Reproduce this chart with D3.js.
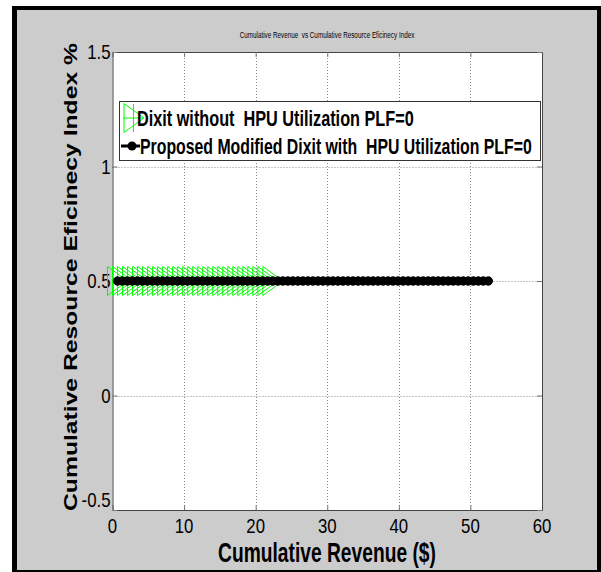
<!DOCTYPE html>
<html>
<head>
<meta charset="utf-8">
<script src="https://cdn.jsdelivr.net/npm/d3@7"></script>
<style>
  html, body { margin: 0; padding: 0; background: #ffffff; }
  svg { display: block; }
  text { white-space: pre; }
</style>
</head>
<body>
<svg id="chart" width="601" height="572"></svg>
<script>
// Cumulative revenue ($) of each step, and the efficiency index at that step
const dixitRevenue = [0.7,1.4,2.1,2.8,3.5,4.2,4.9,5.6,6.3,7.0,7.7,8.4,9.1,9.8,10.5,11.2,
  11.9,12.6,13.3,14.0,14.7,15.4,16.1,16.8,17.5,18.2,18.9,19.6,20.3,21.0,21.7,22.4];
const dixitIndex = [0.5,0.5,0.5,0.5,0.5,0.5,0.5,0.5,0.5,0.5,0.5,0.5,0.5,0.5,0.5,0.5,
  0.5,0.5,0.5,0.5,0.5,0.5,0.5,0.5,0.5,0.5,0.5,0.5,0.5,0.5,0.5,0.5];

const proposedRevenue = [0.7,1.4,2.1,2.8,3.5,4.2,4.9,5.6,6.3,7.0,7.7,8.4,9.1,9.8,10.5,
  11.2,11.9,12.6,13.3,14.0,14.7,15.4,16.1,16.8,17.5,18.2,18.9,19.6,20.3,21.0,21.7,22.4,
  23.1,23.8,24.5,25.2,25.9,26.6,27.3,28.0,28.7,29.4,30.1,30.8,31.5,32.2,32.9,33.6,34.3,
  35.0,35.7,36.4,37.1,37.8,38.5,39.2,39.9,40.6,41.3,42.0,42.7,43.4,44.1,44.8,45.5,46.2,
  46.9,47.6,48.3,49.0,49.7,50.4,51.1,51.8,52.5];
const proposedIndex = [0.5,0.5,0.5,0.5,0.5,0.5,0.5,0.5,0.5,0.5,0.5,0.5,0.5,0.5,0.5,
  0.5,0.5,0.5,0.5,0.5,0.5,0.5,0.5,0.5,0.5,0.5,0.5,0.5,0.5,0.5,0.5,0.5,
  0.5,0.5,0.5,0.5,0.5,0.5,0.5,0.5,0.5,0.5,0.5,0.5,0.5,0.5,0.5,0.5,0.5,
  0.5,0.5,0.5,0.5,0.5,0.5,0.5,0.5,0.5,0.5,0.5,0.5,0.5,0.5,0.5,0.5,0.5,
  0.5,0.5,0.5,0.5,0.5,0.5,0.5,0.5,0.5];

const xTicks = [0, 10, 20, 30, 40, 50, 60];
const yTicks = [-0.5, 0, 0.5, 1, 1.5];
const yTickLabels = ["-0.5", "0", "0.5", "1", "1.5"];

const seriesNames = [
  "Dixit without  HPU Utilization PLF=0",
  "Proposed Modified Dixit with  HPU Utilization PLF=0"
];
const chartTitle = "Cumulative Revenue  vs Cumulative Resource Eficinecy Index";
const xTitle = "Cumulative Revenue ($)";
const yTitle = "Cumulative Resource Eficinecy Index %";

const svg = d3.select("#chart");
const narrow = "'Liberation Sans Narrow', 'Arial Narrow', 'Liberation Sans', Arial, sans-serif";
const wide = "'Liberation Sans', Arial, sans-serif";

// squeeze a text selection horizontally, as a condensed face would
function condense(sel, factor) {
  sel.each(function () {
    const len = this.getComputedTextLength();
    d3.select(this).attr("textLength", len * factor).attr("lengthAdjust", "spacingAndGlyphs");
  });
}

// text placed at (tx, ty) and scaled horizontally to a given width
function fitText(parent, tx, ty, width, str, size, weight, anchor) {
  const g = parent.append("g");
  const t = g.append("text").attr("x", 0).attr("y", 0)
    .attr("font-family", narrow).attr("font-weight", weight).attr("font-size", size)
    .attr("text-anchor", anchor || "start").text(str);
  const k = width / t.node().getComputedTextLength();
  g.attr("transform", `translate(${tx},${ty}) scale(${k},1)`);
  return t;
}

// figure frame
svg.append("rect").attr("x", 12).attr("y", 6).attr("width", 589).attr("height", 566).attr("fill", "#000");
svg.append("rect").attr("x", 17).attr("y", 10).attr("width", 580).attr("height", 560).attr("fill", "#cccccc");

const plot = { left: 112.5, right: 542, top: 52, bottom: 510 };
const x = d3.scaleLinear().domain([0, 60]).range([plot.left, plot.right]);
const y = d3.scaleLinear().domain([-0.5, 1.5]).range([plot.bottom, plot.top]);

svg.append("rect")
  .attr("x", plot.left).attr("y", plot.top)
  .attr("width", plot.right - plot.left).attr("height", plot.bottom - plot.top)
  .attr("fill", "#fff");

// dotted grid
const grid = svg.append("g").attr("stroke", "#8a8a8a").attr("stroke-width", 1).attr("stroke-dasharray", "1,2");
grid.selectAll("line.gx").data(xTicks.slice(1, -1)).join("line")
  .attr("x1", d => Math.round(x(d)) + 0.5).attr("x2", d => Math.round(x(d)) + 0.5)
  .attr("y1", plot.top).attr("y2", plot.bottom);
grid.selectAll("line.gy").data(yTicks.slice(1, -1)).join("line")
  .attr("y1", d => Math.round(y(d)) + 0.5).attr("y2", d => Math.round(y(d)) + 0.5)
  .attr("x1", plot.left).attr("x2", plot.right);

// axes with inward ticks
const xAxis = d3.axisBottom(x).tickValues(xTicks).tickSizeInner(-5).tickSizeOuter(0).tickFormat("");
const xAxisTop = d3.axisTop(x).tickValues(xTicks).tickSizeInner(-5).tickSizeOuter(0).tickFormat("");
const yAxis = d3.axisLeft(y).tickValues(yTicks).tickSizeInner(-5).tickSizeOuter(0).tickFormat("");
const yAxisRight = d3.axisRight(y).tickValues(yTicks).tickSizeInner(-5).tickSizeOuter(0).tickFormat("");

function styleAxis(g) {
  g.select(".domain").attr("stroke", "#444");
  g.selectAll(".tick line").attr("stroke", "#777");
}
svg.append("g").attr("transform", `translate(0,${plot.bottom})`).call(xAxis).call(styleAxis);
svg.append("g").attr("transform", `translate(0,${plot.top})`).call(xAxisTop).call(styleAxis);
svg.append("g").attr("transform", `translate(${plot.left},0)`).call(yAxis).call(styleAxis);
svg.append("g").attr("transform", `translate(${plot.right},0)`).call(yAxisRight).call(styleAxis);

// tick labels
svg.append("g").selectAll("text").data(xTicks).join("text")
  .attr("x", d => x(d)).attr("y", 533)
  .attr("text-anchor", "middle")
  .attr("font-family", narrow).attr("font-size", 21).attr("fill", "#000")
  .text(d => d)
  .call(condense, 0.8);

svg.append("g").selectAll("text").data(yTicks).join("text")
  .attr("x", 110.5)
  .attr("y", d => d === -0.5 ? y(d) - 10 : y(d))
  .attr("dy", "0.35em")
  .attr("text-anchor", "end")
  .attr("font-family", narrow).attr("font-size", 21).attr("fill", "#000")
  .text((d, i) => yTickLabels[i])
  .call(condense, 0.8);

// Dixit series: hollow right-pointing triangles
const tri = (cx, cy) => `M${cx - 10},${cy - 14.5}L${cx + 10},${cy}L${cx - 10},${cy + 14.5}Z`;
svg.append("g").selectAll("path").data(dixitRevenue).join("path")
  .attr("d", (d, i) => tri(x(d), y(dixitIndex[i])))
  .attr("fill", "none").attr("stroke", "#00ff00").attr("stroke-width", 1);

// Proposed series: black line with filled circles
const line = d3.line().x(d => x(d[0])).y(d => y(d[1]));
svg.append("path")
  .attr("d", line(proposedRevenue.map((d, i) => [d, proposedIndex[i]])))
  .attr("fill", "none").attr("stroke", "#000").attr("stroke-width", 2);
svg.append("g").selectAll("circle").data(proposedRevenue).join("circle")
  .attr("cx", d => x(d)).attr("cy", (d, i) => y(proposedIndex[i]))
  .attr("r", 4.2).attr("fill", "#000").attr("stroke", "#000").attr("stroke-width", 1);

// legend
const lg = svg.append("g");
lg.append("rect").attr("x", 119.5).attr("y", 101.5).attr("width", 421).attr("height", 59)
  .attr("fill", "#fff").attr("stroke", "#333").attr("stroke-width", 1);
lg.append("path").attr("d", tri(134, 118)).attr("fill", "none").attr("stroke", "#00ff00");
lg.append("line").attr("x1", 123).attr("x2", 143).attr("y1", 118).attr("y2", 118).attr("stroke", "#00ff00");
lg.append("line").attr("x1", 133.5).attr("x2", 133.5).attr("y1", 104).attr("y2", 132).attr("stroke", "#00ff00");
lg.append("line").attr("x1", 121).attr("x2", 140).attr("y1", 146).attr("y2", 146).attr("stroke", "#000").attr("stroke-width", 3);
lg.append("circle").attr("cx", 132).attr("cy", 146).attr("r", 4.5).attr("fill", "#000");
fitText(lg, 137, 126, 277, seriesNames[0], 22, "bold");
fitText(lg, 140, 154, 392, seriesNames[1], 22, "bold");

// titles
fitText(svg, 327, 38, 175, chartTitle, 9, "normal", "middle");
fitText(svg, 327, 562, 218, xTitle, 27, "bold", "middle");
svg.append("text").attr("transform", "translate(77,277) rotate(-90)").attr("text-anchor", "middle")
  .attr("font-family", wide).attr("font-weight", "bold").attr("font-size", 19)
  .attr("textLength", 468).attr("lengthAdjust", "spacingAndGlyphs")
  .text(yTitle);
</script>
</body>
</html>
